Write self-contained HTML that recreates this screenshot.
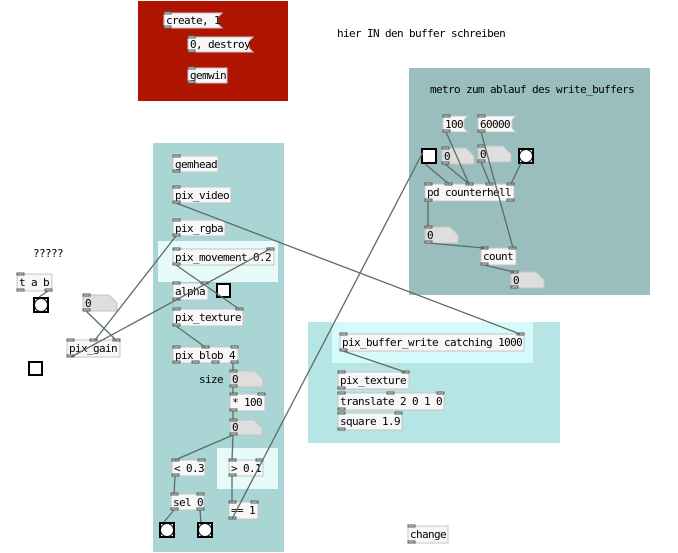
<!DOCTYPE html>
<html><head><meta charset="utf-8"><style>
html,body{margin:0;padding:0;background:#fff;width:678px;height:553px;overflow:hidden}
svg{display:block}
text{font-family:"DejaVu Sans Mono","Liberation Mono",monospace;font-size:11px;letter-spacing:-0.62px;fill:#000}
.o{fill:#f7f7f7;stroke:#c4c4c4;stroke-width:1}
.n{fill:#dedede;stroke:#c4c4c4;stroke-width:1}
.io{fill:#e0e0e0;stroke:#505a55;stroke-width:1}
.c{stroke:#5d6b66;stroke-width:1.3;fill:none}
.tg{fill:#fff;stroke:#000;stroke-width:2}
</style></head><body>
<svg width="678" height="553" viewBox="0 0 678 553" xmlns="http://www.w3.org/2000/svg">
<!-- panels -->
<rect x="138" y="1" width="150" height="100" fill="#af1500"/>
<rect x="153" y="143" width="131" height="409" fill="#aad5d5"/>
<rect x="158" y="241" width="120" height="41" fill="#e6fafa"/>
<rect x="217" y="448" width="61" height="41" fill="#e6fafa"/>
<rect x="409" y="68" width="241" height="227" fill="#9abdbd"/>
<rect x="308" y="322" width="252" height="121" fill="#b7e5e5"/>
<rect x="332" y="322" width="201" height="41" fill="#d4fafa"/>

<!-- free labels -->
<text x="337" y="37">hier IN den buffer schreiben</text>
<text x="430" y="93">metro zum ablauf des write_buffers</text>
<text x="33" y="257">?????</text>
<text x="199" y="383">size</text>

<!-- red area -->
<polygon class="o" points="164,13 222,13 218,17 218,24 222,28 164,28"/>
<text x="166" y="24">create, 1</text>
<rect class="io" x="164" y="12" width="7" height="2"/><rect class="io" x="164" y="26" width="7" height="2"/>
<polygon class="o" points="188,37 253,37 249,41 249,48 253,52 188,52"/>
<text x="190" y="48">0, destroy</text>
<rect class="io" x="188" y="36" width="7" height="2"/><rect class="io" x="188" y="50" width="7" height="2"/>
<rect class="o" x="188" y="68" width="39" height="15"/>
<text x="190" y="79">gemwin</text>
<rect class="io" x="188" y="67" width="7" height="2"/><rect class="io" x="188" y="81" width="7" height="2"/>

<!-- left column -->
<rect class="o" x="173" y="156" width="45" height="16"/><text x="175" y="168">gemhead</text>
<rect class="io" x="173" y="155" width="7" height="2"/><rect class="io" x="173" y="170" width="7" height="2"/>

<rect class="o" x="173" y="187" width="58" height="16"/><text x="175" y="199">pix_video</text>
<rect class="io" x="173" y="186" width="7" height="2"/><rect class="io" x="173" y="201" width="7" height="2"/>

<rect class="o" x="173" y="220" width="52" height="16"/><text x="175" y="232">pix_rgba</text>
<rect class="io" x="173" y="219" width="7" height="2"/><rect class="io" x="173" y="234" width="7" height="2"/>

<rect class="o" x="173" y="249" width="101" height="16"/><text x="175" y="261">pix_movement 0.2</text>
<rect class="io" x="173" y="248" width="7" height="2"/><rect class="io" x="267" y="248" width="7" height="2"/><rect class="io" x="173" y="263" width="7" height="2"/>

<rect class="o" x="173" y="283" width="35" height="17"/><text x="175" y="295">alpha</text>
<rect class="io" x="173" y="282" width="7" height="2"/><rect class="io" x="201" y="282" width="7" height="2"/><rect class="io" x="173" y="298" width="7" height="2"/>
<rect class="tg" x="217" y="284" width="13" height="13"/>

<rect class="o" x="173" y="309" width="70" height="17"/><text x="175" y="321">pix_texture</text>
<rect class="io" x="173" y="308" width="7" height="2"/><rect class="io" x="236" y="308" width="7" height="2"/><rect class="io" x="173" y="324" width="7" height="2"/>

<rect class="o" x="173" y="347" width="65" height="16"/><text x="175" y="359">pix_blob 4</text>
<rect class="io" x="173" y="346" width="7" height="2"/><rect class="io" x="202" y="346" width="7" height="2"/><rect class="io" x="231" y="346" width="7" height="2"/>
<rect class="io" x="173" y="361" width="7" height="2"/><rect class="io" x="192" y="361" width="7" height="2"/><rect class="io" x="212" y="361" width="7" height="2"/><rect class="io" x="231" y="361" width="7" height="2"/>

<polygon class="n" points="230,371 255,371 263,379 263,387 230,387"/><text x="232" y="383">0</text>
<rect class="io" x="230" y="370" width="7" height="2"/><rect class="io" x="230" y="385" width="7" height="2"/>

<rect class="o" x="230" y="394" width="35" height="17"/><text x="232" y="406">* 100</text>
<rect class="io" x="230" y="393" width="7" height="2"/><rect class="io" x="258" y="393" width="7" height="2"/><rect class="io" x="230" y="409" width="7" height="2"/>

<polygon class="n" points="230,420 254,420 262,428 262,435 230,435"/><text x="232" y="431">0</text>
<rect class="io" x="230" y="419" width="7" height="2"/><rect class="io" x="230" y="433" width="7" height="2"/>

<rect class="o" x="172" y="460" width="33" height="16"/><text x="174" y="472">&lt; 0.3</text>
<rect class="io" x="172" y="459" width="7" height="2"/><rect class="io" x="198" y="459" width="7" height="2"/><rect class="io" x="172" y="474" width="7" height="2"/>

<rect class="o" x="229" y="460" width="34" height="16"/><text x="231" y="472">&gt; 0.1</text>
<rect class="io" x="229" y="459" width="7" height="2"/><rect class="io" x="256" y="459" width="7" height="2"/><rect class="io" x="229" y="474" width="7" height="2"/>

<rect class="o" x="171" y="494" width="33" height="16"/><text x="173" y="506">sel 0</text>
<rect class="io" x="171" y="493" width="7" height="2"/><rect class="io" x="197" y="493" width="7" height="2"/><rect class="io" x="171" y="508" width="7" height="2"/><rect class="io" x="197" y="508" width="7" height="2"/>

<rect class="o" x="229" y="502" width="29" height="17"/><text x="231" y="514">== 1</text>
<rect class="io" x="229" y="501" width="7" height="2"/><rect class="io" x="251" y="501" width="7" height="2"/><rect class="io" x="229" y="517" width="7" height="2"/>

<rect class="tg" x="160" y="523" width="14" height="14"/><circle cx="167" cy="530" r="6.5" fill="#fff" stroke="#000" stroke-width="1"/>
<rect class="tg" x="198" y="523" width="14" height="14"/><circle cx="205" cy="530" r="6.5" fill="#fff" stroke="#000" stroke-width="1"/>

<!-- far left -->
<rect class="o" x="17" y="274" width="35" height="17"/><text x="19" y="286">t a b</text>
<rect class="io" x="17" y="273" width="7" height="2"/><rect class="io" x="17" y="289" width="7" height="2"/><rect class="io" x="45" y="289" width="7" height="2"/>
<rect class="tg" x="34" y="298" width="14" height="14"/><circle cx="41" cy="305" r="6.5" fill="#fff" stroke="#000" stroke-width="1"/>

<polygon class="n" points="83,295 109,295 117,303 117,311 83,311"/><text x="85" y="307">0</text>
<rect class="io" x="83" y="294" width="7" height="2"/><rect class="io" x="83" y="309" width="7" height="2"/>

<rect class="o" x="67" y="340" width="53" height="17"/><text x="69" y="352">pix_gain</text>
<rect class="io" x="67" y="339" width="7" height="2"/><rect class="io" x="90" y="339" width="7" height="2"/><rect class="io" x="113" y="339" width="7" height="2"/><rect class="io" x="67" y="355" width="7" height="2"/>

<rect class="tg" x="29" y="362" width="13" height="13"/>

<!-- metro panel -->
<polygon class="o" points="443,116 468,116 464,120 464,128 468,132 443,132"/><text x="445" y="128">100</text>
<rect class="io" x="443" y="115" width="7" height="2"/><rect class="io" x="443" y="130" width="7" height="2"/>
<polygon class="o" points="478,116 516,116 512,120 512,128 516,132 478,132"/><text x="480" y="128">60000</text>
<rect class="io" x="478" y="115" width="7" height="2"/><rect class="io" x="478" y="130" width="7" height="2"/>

<rect class="tg" x="422" y="149" width="14" height="14"/>
<polygon class="n" points="442,148 466,148 474,156 474,164 442,164"/><text x="444" y="160">0</text>
<rect class="io" x="442" y="147" width="7" height="2"/><rect class="io" x="442" y="162" width="7" height="2"/>
<polygon class="n" points="478,146 503,146 511,154 511,162 478,162"/><text x="480" y="158">0</text>
<rect class="io" x="478" y="145" width="7" height="2"/><rect class="io" x="478" y="160" width="7" height="2"/>
<rect class="tg" x="519" y="149" width="14" height="14"/><circle cx="526" cy="156" r="6.5" fill="#fff" stroke="#000" stroke-width="1"/>

<rect class="o" x="425" y="184" width="89" height="17"/><text x="427" y="196">pd counterhell</text>
<rect class="io" x="425" y="183" width="7" height="2"/><rect class="io" x="445" y="183" width="7" height="2"/><rect class="io" x="466" y="183" width="7" height="2"/><rect class="io" x="486" y="183" width="7" height="2"/><rect class="io" x="507" y="183" width="7" height="2"/>
<rect class="io" x="425" y="199" width="7" height="2"/><rect class="io" x="507" y="199" width="7" height="2"/>

<polygon class="n" points="425,227 450,227 458,235 458,243 425,243"/><text x="427" y="239">0</text>
<rect class="io" x="425" y="226" width="7" height="2"/><rect class="io" x="425" y="241" width="7" height="2"/>

<rect class="o" x="481" y="248" width="35" height="17"/><text x="483" y="260">count</text>
<rect class="io" x="481" y="247" width="7" height="2"/><rect class="io" x="509" y="247" width="7" height="2"/><rect class="io" x="481" y="263" width="7" height="2"/>

<polygon class="n" points="511,272 536,272 544,280 544,288 511,288"/><text x="513" y="284">0</text>
<rect class="io" x="511" y="271" width="7" height="2"/><rect class="io" x="511" y="286" width="7" height="2"/>

<!-- bottom right -->
<rect class="o" x="340" y="334" width="184" height="17"/><text x="342" y="346">pix_buffer_write catching 1000</text>
<rect class="io" x="340" y="333" width="7" height="2"/><rect class="io" x="517" y="333" width="7" height="2"/><rect class="io" x="340" y="349" width="7" height="2"/>

<rect class="o" x="338" y="372" width="71" height="17"/><text x="340" y="384">pix_texture</text>
<rect class="io" x="338" y="371" width="7" height="2"/><rect class="io" x="402" y="371" width="7" height="2"/><rect class="io" x="338" y="387" width="7" height="2"/>

<rect class="o" x="338" y="393" width="106" height="17"/><text x="340" y="405">translate 2 0 1 0</text>
<rect class="io" x="338" y="392" width="7" height="2"/><rect class="io" x="387" y="392" width="7" height="2"/><rect class="io" x="437" y="392" width="7" height="2"/><rect class="io" x="338" y="408" width="7" height="2"/>

<rect class="o" x="338" y="413" width="64" height="17"/><text x="340" y="425">square 1.9</text>
<rect class="io" x="338" y="412" width="7" height="2"/><rect class="io" x="395" y="412" width="7" height="2"/><rect class="io" x="338" y="428" width="7" height="2"/>

<rect class="o" x="408" y="526" width="40" height="17"/><text x="410" y="538">change</text>
<rect class="io" x="408" y="525" width="7" height="2"/><rect class="io" x="408" y="541" width="7" height="2"/>

<!-- connections -->
<line class="c" x1="176" y1="203" x2="520" y2="334"/>
<line class="c" x1="176" y1="236" x2="95" y2="340"/>
<line class="c" x1="71" y1="357" x2="270" y2="249"/>
<line class="c" x1="176" y1="265" x2="239" y2="309"/>
<line class="c" x1="86" y1="311" x2="116" y2="340"/>
<line class="c" x1="176" y1="326" x2="205" y2="347"/>
<line class="c" x1="233" y1="363" x2="233" y2="371"/>
<line class="c" x1="233" y1="387" x2="233" y2="394"/>
<line class="c" x1="233" y1="411" x2="233" y2="420"/>
<line class="c" x1="233" y1="435" x2="175" y2="460"/>
<line class="c" x1="233" y1="435" x2="232" y2="460"/>
<line class="c" x1="175" y1="476" x2="174" y2="494"/>
<line class="c" x1="232" y1="476" x2="232" y2="502"/>
<line class="c" x1="174" y1="510" x2="164" y2="522"/>
<line class="c" x1="200" y1="510" x2="201" y2="522"/>
<line class="c" x1="232" y1="519" x2="423" y2="152"/>
<line class="c" x1="48" y1="291" x2="39" y2="297"/>
<line class="c" x1="343" y1="351" x2="405" y2="372"/>
<line class="c" x1="446" y1="132" x2="469" y2="184"/>
<line class="c" x1="481" y1="132" x2="513" y2="248"/>
<line class="c" x1="425" y1="164" x2="449" y2="184"/>
<line class="c" x1="445" y1="164" x2="469" y2="184"/>
<line class="c" x1="481" y1="162" x2="490" y2="184"/>
<line class="c" x1="521" y1="163" x2="511" y2="184"/>
<line class="c" x1="428" y1="201" x2="428" y2="227"/>
<line class="c" x1="428" y1="243" x2="484" y2="248"/>
<line class="c" x1="484" y1="265" x2="514" y2="272"/>
</svg>
</body></html>
